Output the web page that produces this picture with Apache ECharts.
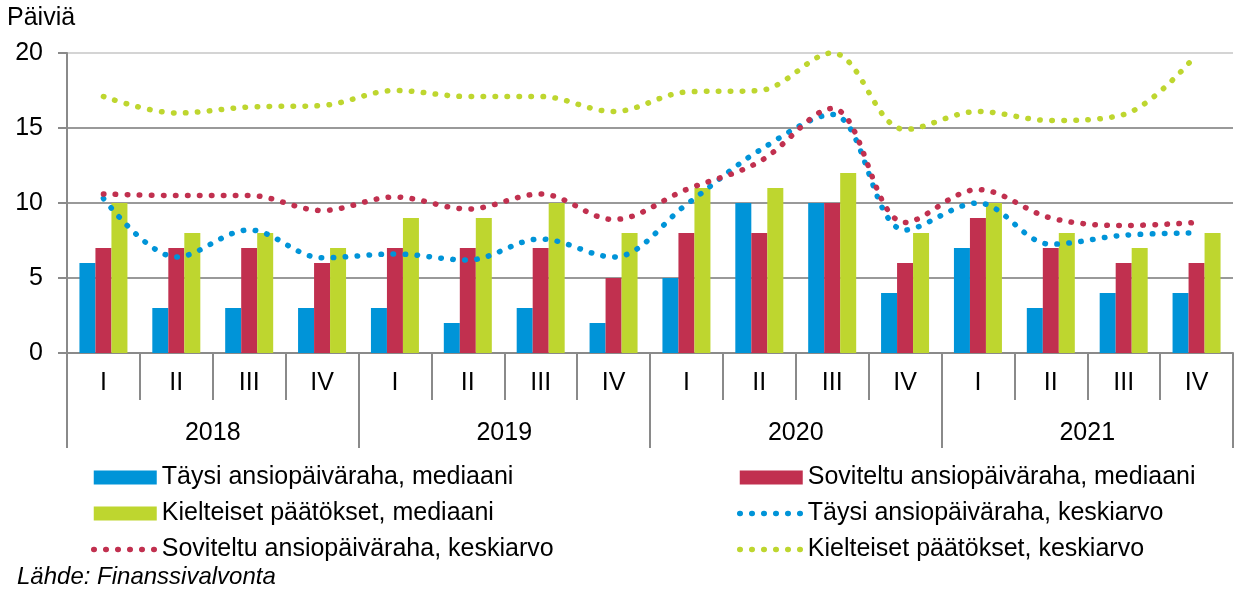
<!DOCTYPE html>
<html>
<head>
<meta charset="utf-8">
<script src="https://cdn.jsdelivr.net/npm/echarts@6/dist/echarts.min.js"></script>
<style>
    html, body {margin: 0; padding: 0; background: #fff;}
    #chart {width: 1235px; height: 593px;}
</style>
</head>
<body>
<div id="chart"></div>
<script>
    // 数据
    var quarters = ['I', 'II', 'III', 'IV', 'I', 'II', 'III', 'IV', 'I', 'II', 'III', 'IV', 'I', 'II', 'III', 'IV'];
    var years = ['2018', '2019', '2020', '2021'];

    var taysiMediaani = [6, 3, 3, 3, 3, 2, 3, 2, 5, 10, 10, 4, 7, 3, 4, 4];
    var soviteltuMediaani = [7, 7, 7, 6, 7, 7, 7, 5, 8, 8, 10, 6, 9, 7, 6, 6];
    var kielteisetMediaani = [10, 8, 8, 7, 9, 9, 10, 8, 11, 11, 12, 8, 10, 8, 7, 8];

    var taysiKeskiarvo = [10.3, 6.4, 8.2, 6.35, 6.6, 6.2, 7.6, 6.4, 9.9, 13.5, 15.9, 8.2, 10.0, 7.25, 7.85, 8.0];
    var soviteltuKeskiarvo = [10.6, 10.5, 10.5, 9.5, 10.4, 9.6, 10.6, 8.9, 10.9, 12.75, 16.3, 8.7, 10.9, 9.0, 8.5, 8.7];
    var kielteisetKeskiarvo = [17.1, 16.0, 16.4, 16.5, 17.5, 17.1, 17.1, 16.1, 17.4, 17.5, 20.0, 14.9, 16.1, 15.5, 15.9, 19.9];

    var BLUE = '#0094d8', RED = '#c1304f', GREEN = '#bed62f', AXIS = '#8a8a8a';
    var FONT = 'Liberation Sans';
    var DOTS = {width: 5.5, type: [0.5, 11.5], cap: 'round'};

    function barSeries(name, data, color) {
        return {name: name, type: 'bar', data: data, barWidth: 16, barGap: '0%', itemStyle: {color: color}};
    }

    function dotSeries(name, data, color) {
        return {
            name     : name,
            type     : 'line',
            data     : data,
            smooth   : 0.35,
            symbol   : 'none',
            z        : 3,
            clip     : false,
            itemStyle: {color: color},
            lineStyle: {color: color, width: DOTS.width, type: DOTS.type, cap: DOTS.cap}
        };
    }

    // 图例项：柱子用矩形，虚线用点线
    function barItem(name) {
        return {name: name, icon: 'rect'};
    }

    function dotItem(name) {
        return {name: name, itemStyle: {opacity: 0}, lineStyle: {width: DOTS.width, type: DOTS.type, cap: DOTS.cap}};
    }

    var legendText = {fontSize: 25, color: '#000', lineHeight: 25, fontFamily: FONT};

    var chart = echarts.init(document.getElementById('chart'));
    var option = {
        animation: false,
        textStyle: {fontFamily: FONT},
        grid     : {left: 67, right: 2, top: 53, bottom: 240},
        graphic  : [
            {type: 'text', left: 7, top: 6, style: {text: 'Päiviä', font: '25px "Liberation Sans"', fill: '#000'}},
            {type: 'text', left: 17, top: 565, style: {text: 'Lähde: Finanssivalvonta', font: 'italic 24px "Liberation Sans"', fill: '#000'}}
        ],
        legend   : [
            {
                left     : 91, top: 465, padding: 0, orient: 'vertical', itemWidth: 63, itemHeight: 14, itemGap: 11,
                textStyle: legendText,
                data     : [
                    barItem('Täysi ansiopäiväraha, mediaani'),
                    barItem('Kielteiset päätökset, mediaani'),
                    dotItem('Soviteltu ansiopäiväraha, keskiarvo')
                ]
            },
            {
                left     : 737, top: 465, padding: 0, orient: 'vertical', itemWidth: 63, itemHeight: 14, itemGap: 11,
                textStyle: legendText,
                data     : [
                    barItem('Soviteltu ansiopäiväraha, mediaani'),
                    dotItem('Täysi ansiopäiväraha, keskiarvo'),
                    dotItem('Kielteiset päätökset, keskiarvo')
                ]
            }
        ],
        xAxis    : [
            {
                type     : 'category',
                data     : quarters,
                axisLine : {show: true, lineStyle: {color: AXIS, width: 2}},
                axisTick : {show: true, interval: 0, length: 47, lineStyle: {color: AXIS, width: 2}},
                axisLabel: {interval: 0, margin: 18, fontSize: 25, color: '#000', fontFamily: FONT}
            },
            {
                type     : 'category',
                data     : years,
                position : 'bottom',
                axisLine : {show: false},
                axisTick : {show: true, interval: 0, length: 95, lineStyle: {color: AXIS, width: 2}},
                axisLabel: {interval: 0, margin: 68, fontSize: 25, color: '#000', fontFamily: FONT}
            }
        ],
        yAxis    : {
            type     : 'value',
            min      : 0,
            max      : 20,
            interval : 5,
            axisLine : {show: true, lineStyle: {color: AXIS, width: 2}},
            axisTick : {show: true, length: 9, lineStyle: {color: AXIS, width: 2}},
            axisLabel: {margin: 24, fontSize: 25, color: '#000', fontFamily: FONT},
            splitLine: {lineStyle: {color: ['#999', '#999', '#999', '#999', '#d4d4d4'], width: 2}}
        },
        series   : [
            barSeries('Täysi ansiopäiväraha, mediaani', taysiMediaani, BLUE),
            barSeries('Soviteltu ansiopäiväraha, mediaani', soviteltuMediaani, RED),
            barSeries('Kielteiset päätökset, mediaani', kielteisetMediaani, GREEN),
            dotSeries('Täysi ansiopäiväraha, keskiarvo', taysiKeskiarvo, BLUE),
            dotSeries('Soviteltu ansiopäiväraha, keskiarvo', soviteltuKeskiarvo, RED),
            dotSeries('Kielteiset päätökset, keskiarvo', kielteisetKeskiarvo, GREEN)
        ]
    };
    chart.setOption(option);
</script>
</body>
</html>
